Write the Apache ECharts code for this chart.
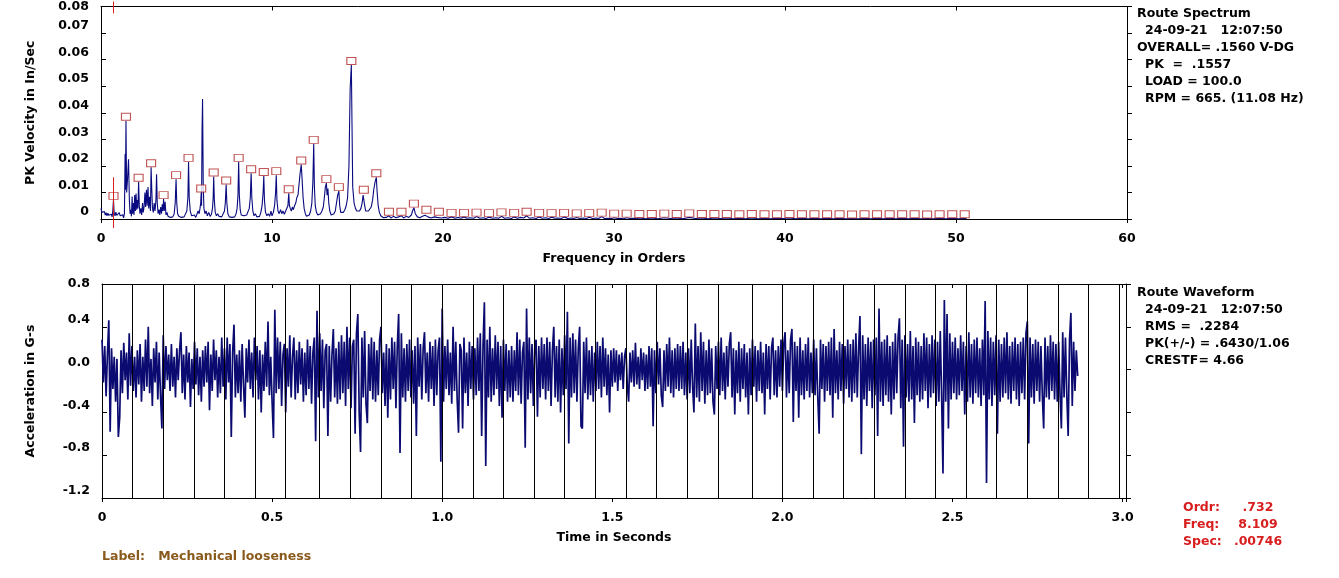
<!DOCTYPE html>
<html>
<head>
<meta charset="utf-8">
<title>Route Spectrum / Route Waveform</title>
<script src="https://cdn.jsdelivr.net/npm/echarts@6.0.0/dist/echarts.min.js"></script>
<style>
    html, body { margin: 0; padding: 0; background: #fff; }
    #main { width: 1339px; height: 578px; }
</style>
</head>
<body>
<div id="main"></div>
<script>
// ---- spectrum (orders, PK velocity in/s) ----
var spectrumPts = [
    [0.00,0.0040],[0.05,0.0025],[0.10,0.0032],[0.15,0.0018],[0.20,0.0028],[0.25,0.0015],[0.30,0.0024],[0.35,0.0012],
    [0.40,0.0022],[0.45,0.0014],[0.50,0.0020],[0.55,0.0010],[0.60,0.0018],[0.65,0.0008],[0.69,0.0030],[0.73,0.0072],
    [0.77,0.0022],[0.82,0.0012],[0.87,0.0026],[0.92,0.0014],[0.97,0.0020],[1.02,0.0010],[1.07,0.0024],[1.12,0.0012],
    [1.17,0.0018],[1.22,0.0008],[1.27,0.0016],[1.32,0.0004],[1.37,0.0020],[1.41,0.0245],[1.43,0.0110],[1.46,0.0370],
    [1.50,0.0100],[1.55,0.0150],[1.61,0.0225],[1.66,0.0070],[1.70,0.0020],[1.74,0.0035],[1.78,0.0010],[1.82,0.0085],
    [1.85,0.0020],[1.90,0.0060],[1.93,0.0015],[1.97,0.0090],[2.01,0.0030],[2.05,0.0096],[2.09,0.0035],[2.13,0.0071],
    [2.16,0.0040],[2.20,0.0140],[2.24,0.0050],[2.28,0.0020],[2.33,0.0040],[2.38,0.0015],[2.43,0.0060],[2.47,0.0025],
    [2.52,0.0046],[2.57,0.0100],[2.61,0.0045],[2.66,0.0110],[2.70,0.0050],[2.75,0.0120],[2.79,0.0040],[2.84,0.0084],
    [2.89,0.0030],[2.93,0.0195],[2.97,0.0110],[3.01,0.0040],[3.06,0.0025],[3.11,0.0060],[3.16,0.0030],[3.21,0.0070],
    [3.25,0.0168],[3.29,0.0060],[3.34,0.0020],[3.39,0.0035],[3.44,0.0015],[3.49,0.0045],[3.54,0.0020],[3.58,0.0055],
    [3.62,0.0030],[3.66,0.0075],[3.70,0.0030],[3.75,0.0065],[3.80,0.0015],[3.86,0.0025],[3.92,0.0010],[3.98,0.0015],
    [4.05,0.0006],[4.12,0.0012],[4.20,0.0008],[4.28,0.0020],[4.34,0.0060],[4.39,0.0150],[4.43,0.0060],[4.48,0.0020],
    [4.55,0.0010],[4.62,0.0015],[4.70,0.0006],[4.78,0.0012],[4.86,0.0008],[4.94,0.0015],[5.02,0.0030],[5.08,0.0080],
    [5.12,0.0215],[5.16,0.0080],[5.22,0.0030],[5.30,0.0012],[5.38,0.0008],[5.46,0.0015],[5.54,0.0006],[5.62,0.0020],
    [5.68,0.0030],[5.74,0.0020],[5.79,0.0040],[5.83,0.0060],[5.86,0.0100],[5.88,0.0050],[5.91,0.0340],[5.94,0.0452],
    [5.98,0.0120],[6.02,0.0040],[6.08,0.0020],[6.15,0.0030],[6.22,0.0012],[6.30,0.0025],[6.38,0.0010],[6.46,0.0018],
    [6.52,0.0040],[6.56,0.0080],[6.59,0.0160],[6.63,0.0070],[6.68,0.0025],[6.75,0.0012],[6.82,0.0020],[6.90,0.0010],
    [6.98,0.0015],[7.06,0.0008],[7.14,0.0015],[7.22,0.0030],[7.27,0.0060],[7.32,0.0130],[7.36,0.0060],[7.42,0.0020],
    [7.50,0.0008],[7.58,0.0012],[7.66,0.0006],[7.74,0.0012],[7.82,0.0008],[7.90,0.0020],[7.96,0.0040],[8.01,0.0090],
    [8.05,0.0215],[8.09,0.0090],[8.14,0.0035],[8.20,0.0015],[8.28,0.0008],[8.36,0.0012],[8.44,0.0006],[8.52,0.0015],
    [8.60,0.0020],[8.67,0.0040],[8.73,0.0080],[8.78,0.0172],[8.82,0.0080],[8.88,0.0030],[8.95,0.0012],[9.03,0.0020],
    [9.11,0.0008],[9.19,0.0015],[9.27,0.0010],[9.35,0.0025],[9.42,0.0050],[9.48,0.0100],[9.52,0.0162],[9.56,0.0070],
    [9.62,0.0025],[9.70,0.0012],[9.78,0.0020],[9.86,0.0010],[9.94,0.0030],[10.00,0.0012],[10.08,0.0025],[10.15,0.0050],
    [10.21,0.0100],[10.25,0.0165],[10.29,0.0070],[10.35,0.0030],[10.42,0.0020],[10.50,0.0035],[10.57,0.0020],[10.64,0.0030],
    [10.72,0.0018],[10.80,0.0030],[10.87,0.0025],[10.93,0.0050],[10.98,0.0097],[11.02,0.0050],[11.07,0.0040],[11.13,0.0030],
    [11.19,0.0045],[11.25,0.0035],[11.32,0.0050],[11.39,0.0060],[11.45,0.0080],[11.52,0.0090],[11.58,0.0130],[11.64,0.0170],
    [11.71,0.0205],[11.76,0.0150],[11.82,0.0080],[11.88,0.0040],[11.95,0.0020],[12.02,0.0010],[12.10,0.0008],[12.18,0.0015],
    [12.26,0.0030],[12.33,0.0060],[12.39,0.0140],[12.44,0.0283],[12.48,0.0120],[12.53,0.0050],[12.60,0.0025],[12.68,0.0015],
    [12.76,0.0012],[12.84,0.0020],[12.92,0.0030],[13.00,0.0045],[13.06,0.0080],[13.12,0.0120],[13.18,0.0135],[13.22,0.0090],
    [13.27,0.0115],[13.32,0.0060],[13.38,0.0030],[13.46,0.0015],[13.54,0.0012],[13.62,0.0020],[13.70,0.0030],[13.77,0.0060],
    [13.84,0.0090],[13.91,0.0105],[13.96,0.0050],[14.02,0.0025],[14.10,0.0020],[14.18,0.0025],[14.26,0.0035],[14.34,0.0050],
    [14.42,0.0080],[14.50,0.0200],[14.57,0.0490],[14.64,0.0580],[14.68,0.0350],[14.72,0.0120],[14.80,0.0060],[14.88,0.0040],
    [14.96,0.0030],[15.04,0.0025],[15.12,0.0030],[15.20,0.0040],[15.27,0.0060],[15.33,0.0090],[15.37,0.0095],[15.42,0.0050],
    [15.48,0.0030],[15.56,0.0025],[15.64,0.0030],[15.72,0.0035],[15.80,0.0045],[15.88,0.0070],[15.95,0.0110],[16.03,0.0140],
    [16.10,0.0157],[16.15,0.0100],[16.21,0.0050],[16.28,0.0025],[16.36,0.0012],[16.44,0.0008],[16.52,0.0005],[16.60,0.0008],
    [16.68,0.0006],[16.76,0.0005],[16.84,0.0012],[16.95,0.0004],[17.10,0.0010],[17.25,0.0005],[17.40,0.0008],[17.57,0.0012],
    [17.70,0.0004],[17.85,0.0010],[18.00,0.0006],[18.15,0.0015],[18.22,0.0030],[18.30,0.0043],[18.38,0.0020],[18.50,0.0008],
    [18.65,0.0005],[18.80,0.0010],[18.95,0.0014],[19.03,0.0020],[19.12,0.0008],[19.30,0.0004],[19.50,0.0008],[19.65,0.0006],
    [19.76,0.0012],[19.90,0.0004],[20.10,0.0006],[20.30,0.0003],[20.50,0.0008],[20.70,0.0003],[20.90,0.0006],[21.05,0.0003],
    [21.23,0.0008],[21.40,0.0003],[21.60,0.0005],[21.80,0.0003],[21.96,0.0009],[22.15,0.0003],[22.35,0.0005],[22.50,0.0002],
    [22.69,0.0007],[22.90,0.0003],[23.10,0.0005],[23.25,0.0003],[23.42,0.0010],[23.60,0.0003],[23.80,0.0005],[24.00,0.0002],
    [24.16,0.0008],[24.35,0.0003],[24.55,0.0006],[24.72,0.0004],[24.89,0.0012],[25.05,0.0003],[25.25,0.0005],[25.45,0.0002],
    [25.62,0.0008],[25.80,0.0003],[26.00,0.0005],[26.18,0.0002],[26.35,0.0007],[26.55,0.0003],[26.75,0.0004],[26.92,0.0002],
    [27.08,0.0008],[27.30,0.0002],[27.50,0.0004],[27.65,0.0002],[27.82,0.0006],[28.00,0.0002],[28.20,0.0004],[28.38,0.0002],
    [28.55,0.0007],[28.75,0.0002],[28.95,0.0004],[29.10,0.0002],[29.28,0.0009],[29.45,0.0002],[29.65,0.0003],[29.85,0.0002],
    [30.01,0.0005],[30.20,0.0002],[30.40,0.0003],[30.55,0.0001],[30.74,0.0005],[30.95,0.0002],[31.15,0.0003],[31.30,0.0001],
    [31.48,0.0004],[31.85,0.0001],[32.21,0.0004],[32.58,0.0001],[32.94,0.0005],[33.30,0.0002],[33.67,0.0004],[34.04,0.0001],
    [34.40,0.0006],[34.77,0.0002],[35.14,0.0004],[35.50,0.0001],[35.87,0.0004],[36.24,0.0002],[36.60,0.0004],[36.97,0.0001],
    [37.33,0.0003],[37.70,0.0001],[38.06,0.0004],[38.43,0.0001],[38.80,0.0003],[39.16,0.0001],[39.53,0.0003],[39.90,0.0002],
    [40.26,0.0004],[40.62,0.0001],[40.99,0.0003],[41.36,0.0001],[41.72,0.0003],[42.09,0.0001],[42.46,0.0003],[42.82,0.0001],
    [43.19,0.0003],[43.56,0.0001],[43.92,0.0002],[44.29,0.0001],[44.65,0.0003],[45.02,0.0001],[45.38,0.0003],[45.75,0.0001],
    [46.12,0.0003],[46.48,0.0001],[46.85,0.0003],[47.22,0.0001],[47.58,0.0003],[47.95,0.0001],[48.31,0.0002],[48.68,0.0001],
    [49.04,0.0003],[49.41,0.0001],[49.78,0.0003],[50.14,0.0001],[50.51,0.0003],[50.62,0.0001]
];

// marked harmonic peaks (orders) and their amplitudes
var harmOrders = [
    0.73, 1.46, 2.20, 2.93, 3.66, 4.39, 5.12, 5.86, 6.59, 7.32,
    8.05, 8.78, 9.52, 10.25, 10.98, 11.71, 12.44, 13.18, 13.91, 14.64,
    15.37, 16.10, 16.84, 17.57, 18.30, 19.03, 19.76, 20.50, 21.23, 21.96,
    22.69, 23.42, 24.16, 24.89, 25.62, 26.35, 27.08, 27.82, 28.55, 29.28,
    30.01, 30.74, 31.48, 32.21, 32.94, 33.67, 34.40, 35.14, 35.87, 36.60,
    37.33, 38.06, 38.80, 39.53, 40.26, 40.99, 41.72, 42.46, 43.19, 43.92,
    44.65, 45.38, 46.12, 46.85, 47.58, 48.31, 49.04, 49.78, 50.51
];
var harmAmps = [
    0.0072, 0.0370, 0.0140, 0.0195, 0.0075, 0.0150, 0.0215, 0.0100, 0.0160, 0.0130,
    0.0215, 0.0172, 0.0162, 0.0165, 0.0097, 0.0205, 0.0283, 0.0135, 0.0105, 0.0580,
    0.0095, 0.0157, 0.0012, 0.0012, 0.0043, 0.0020, 0.0012, 0.0008, 0.0008, 0.0009,
    0.0007, 0.0010, 0.0008, 0.0012, 0.0008, 0.0007, 0.0008, 0.0006, 0.0007, 0.0009,
    0.0005, 0.0005, 0.0004, 0.0004, 0.0005, 0.0004, 0.0006, 0.0004, 0.0004, 0.0004,
    0.0003, 0.0004, 0.0003, 0.0003, 0.0004, 0.0003, 0.0003, 0.0003, 0.0003, 0.0002,
    0.0003, 0.0003, 0.0003, 0.0003, 0.0003, 0.0002, 0.0003, 0.0003, 0.0003
];

// cursor at the first marked peak, and the two red strokes it draws
var cursorOrder = 0.732;
var cursorSpans = [[-0.0034, 0.0157], [0.0774, 0.0819]];

// ---- waveform (G-s), one value every waveDt seconds, rows of 0.1 s ----
var waveDt = 0.004;
var waveG = [
    0.28,-0.12,0.22,-0.25,0.15,0.46,-0.58,0.20,-0.18,0.12,-0.30,0.10,-0.63,-0.45,0.18,-0.22,0.25,-0.10,0.16,-0.28,0.34,-0.15,0.22,-0.20,0.12,
    -0.26,0.18,-0.14,0.24,-0.30,0.12,-0.20,0.28,-0.16,0.40,-0.22,0.10,-0.34,0.20,-0.12,0.26,-0.28,0.16,-0.24,-0.55,0.32,-0.18,0.22,-0.10,0.14,
    -0.20,0.24,-0.16,0.12,-0.26,0.20,-0.10,0.18,0.35,-0.22,0.14,-0.28,0.22,-0.12,0.16,-0.35,0.10,-0.18,0.26,-0.14,0.20,-0.24,0.12,-0.30,0.18,
    -0.16,0.22,-0.12,0.26,-0.38,0.14,-0.20,0.28,-0.10,0.18,-0.26,0.12,-0.22,0.30,-0.16,0.20,-0.28,0.30,-0.12,0.24,-0.63,0.16,0.42,-0.26,0.14,
    -0.22,0.18,-0.30,0.24,-0.14,-0.45,0.20,-0.12,0.28,-0.18,0.16,-0.26,0.30,-0.10,0.22,-0.28,0.18,-0.40,0.14,-0.20,0.26,-0.16,0.45,-0.24,0.12,
    -0.30,-0.64,0.56,-0.22,0.30,-0.18,0.26,-0.34,0.14,0.24,-0.40,0.20,-0.16,0.32,-0.26,0.12,0.30,-0.28,0.18,-0.22,0.26,-0.14,0.20,-0.30,0.16,
    -0.24,0.28,-0.18,0.22,-0.32,0.16,0.30,-0.67,0.55,-0.26,0.34,-0.20,0.28,-0.36,0.18,0.24,-0.62,0.22,-0.30,0.14,0.38,-0.26,0.20,-0.32,0.26,
    -0.28,0.32,-0.22,0.26,-0.34,0.40,-0.18,0.30,-0.36,0.22,0.28,-0.60,0.34,0.52,-0.40,-0.77,0.30,-0.26,0.36,-0.32,-0.50,0.24,-0.20,0.30,-0.28,
    0.26,-0.30,0.18,-0.24,0.28,0.40,-0.22,0.16,-0.34,0.24,-0.45,0.20,-0.28,0.30,-0.18,0.26,-0.36,0.22,0.52,-0.78,0.34,-0.26,0.20,-0.30,0.24,
    -0.20,0.28,-0.26,0.18,-0.32,0.22,-0.62,0.30,-0.16,0.24,-0.28,0.20,0.35,-0.22,0.16,-0.30,0.26,-0.18,0.22,-0.34,0.28,-0.24,0.18,0.30,-0.86,
    0.57,-0.30,0.22,-0.18,0.28,-0.24,0.16,-0.32,0.40,-0.20,0.26,-0.28,-0.59,0.24,0.18,-0.55,0.30,-0.22,0.16,-0.34,0.26,-0.18,0.22,-0.28,0.20,
    -0.24,0.30,-0.20,0.34,-0.62,0.22,0.63,-0.90,0.28,-0.26,0.40,-0.30,0.20,-0.24,0.32,-0.18,0.26,-0.34,0.22,-0.45,0.28,-0.20,0.24,-0.30,0.18,
    -0.26,0.22,-0.30,0.18,-0.20,0.35,-0.24,0.28,-0.32,0.16,0.26,-0.73,0.57,-0.28,0.30,-0.22,0.24,-0.34,0.20,0.28,-0.44,0.22,-0.26,0.30,-0.18,
    0.24,-0.28,0.30,-0.20,0.26,-0.34,0.18,0.40,-0.26,0.22,-0.30,0.28,-0.40,0.20,-0.24,0.32,-0.18,0.54,-0.69,0.30,-0.26,0.34,-0.22,0.28,-0.30,
    0.20,0.40,-0.53,-0.55,0.26,-0.22,0.30,-0.28,0.18,-0.24,0.22,-0.30,0.16,-0.20,0.26,-0.18,0.22,-0.26,0.30,-0.16,0.20,-0.24,0.14,-0.40,0.18,
    -0.16,0.20,-0.12,0.18,-0.20,0.14,-0.10,0.16,-0.18,0.12,0.20,-0.14,-0.30,0.16,-0.12,0.18,-0.16,0.25,-0.14,0.12,-0.18,0.20,-0.10,0.16,-0.20,
    0.14,-0.18,0.22,-0.16,0.20,-0.53,0.18,-0.22,0.26,-0.14,0.20,-0.24,-0.35,0.18,-0.20,0.24,-0.16,0.30,-0.22,0.18,-0.26,0.20,-0.18,0.24,-0.20,
    0.22,-0.18,0.26,-0.24,0.16,-0.28,0.20,-0.22,0.28,-0.16,-0.40,0.43,-0.26,0.22,-0.30,0.35,-0.20,0.26,-0.32,0.18,-0.24,0.28,-0.22,0.20,-0.30,
    -0.42,0.22,-0.18,0.26,-0.24,0.30,-0.20,0.16,-0.28,0.22,-0.16,0.24,0.35,-0.26,0.20,-0.42,0.18,-0.22,0.26,-0.30,0.20,-0.18,0.24,-0.26,0.16,
    -0.42,0.20,-0.24,0.28,-0.16,0.22,-0.30,0.18,-0.20,0.26,-0.22,0.16,-0.42,0.24,-0.18,0.22,-0.28,0.20,0.30,-0.24,0.18,-0.26,0.22,-0.16,0.28,
    -0.20,0.24,0.35,-0.26,0.18,-0.22,0.28,0.38,-0.49,0.26,-0.20,0.22,-0.45,0.30,-0.24,0.18,-0.28,0.24,-0.20,0.30,-0.26,0.16,-0.22,0.28,-0.24,
    0.20,-0.26,-0.60,0.28,-0.18,0.24,-0.30,0.22,-0.20,0.26,-0.24,0.30,-0.45,0.38,-0.22,0.18,-0.28,0.26,-0.20,0.24,-0.32,0.22,-0.18,0.28,-0.26,
    0.24,-0.30,0.28,-0.22,0.34,-0.26,0.20,0.50,-0.79,0.32,-0.28,0.24,-0.34,0.30,-0.20,0.26,-0.36,0.28,-0.24,0.30,-0.62,0.57,-0.30,0.26,-0.34,
    0.28,-0.24,0.32,-0.30,0.22,-0.42,0.26,-0.28,0.34,-0.22,0.30,0.48,-0.36,0.28,-0.72,0.32,-0.26,0.24,-0.30,0.36,-0.28,0.22,-0.50,0.30,-0.24,
    0.26,-0.30,0.22,-0.28,0.34,-0.20,0.30,-0.36,0.24,-0.26,0.32,-0.22,0.28,-0.34,0.26,-0.30,0.36,-0.24,-0.97,0.65,-0.30,0.52,-0.55,0.34,-0.28,
    0.26,-0.22,0.30,-0.28,0.20,-0.24,0.32,-0.20,0.26,-0.42,0.22,-0.30,0.35,-0.26,0.24,-0.32,0.28,-0.22,0.30,-0.26,0.20,-0.34,0.28,-0.24,0.64,
    -1.06,0.36,-0.28,0.30,-0.34,0.26,-0.24,0.32,-0.60,0.28,-0.30,0.24,-0.26,0.30,-0.22,0.35,-0.28,0.22,-0.32,0.26,-0.20,0.30,-0.28,0.24,-0.34,
    0.26,-0.22,0.30,-0.28,0.34,0.45,-0.69,0.30,-0.26,0.24,-0.32,0.28,-0.20,0.26,-0.30,0.22,-0.24,-0.55,0.30,-0.26,0.22,-0.28,0.32,-0.20,0.26,
    -0.28,0.24,-0.30,0.26,-0.22,-0.55,0.35,-0.26,0.30,-0.24,-0.62,0.28,0.53,-0.34,0.26,-0.20,0.18,-0.06
];

// once-per-revolution marker lines on the waveform (seconds)
var revTimes = [
    0.091, 0.181, 0.272, 0.363, 0.454, 0.544, 0.635, 0.726, 0.816, 0.907, 0.998,
    1.088, 1.179, 1.270, 1.361, 1.451, 1.542, 1.633, 1.723, 1.814, 1.905, 1.995,
    2.086, 2.177, 2.268, 2.358, 2.449, 2.540, 2.630, 2.721, 2.812, 2.902, 2.993
];

// ---- texts ----
var specInfo = ['Route Spectrum', '24-09-21   12:07:50', 'OVERALL= .1560 V-DG', 'PK  =  .1557', 'LOAD = 100.0', 'RPM = 665. (11.08 Hz)'];
var waveInfo = ['Route Waveform', '24-09-21   12:07:50', 'RMS =  .2284', 'PK(+/-) = .6430/1.06', 'CRESTF= 4.66'];
var cursorNames = ['Ordr:', 'Freq:', 'Spec:'];
var cursorValues = ['.732', '8.109', '.00746'];
var pointLabel = 'Label:   Mechanical looseness';

(function () {
    var FONT = '"DejaVu Sans", sans-serif';
    var FS = 12.5;
    var txt = { color: '#000', fontSize: FS, fontWeight: 'bold', fontFamily: FONT };

    // y labels sit a little above their ticks, except the top one
    function yLabels(max, digits) {
        return {
            margin: 12,
            formatter: function (v) {
                var s = (v === 0 && digits === 2) ? '0' : v.toFixed(digits);
                return Math.abs(v - max) < 1e-9 ? '{t|' + s + '}' : '{s|' + s + '}';
            },
            rich: {
                s: Object.assign({ padding: [0, 0, 14, 0] }, txt),
                t: Object.assign({}, txt)
            }
        };
    }

    // axis lines never jump to zero: they frame the plots
    var line = { onZero: false, lineStyle: { color: '#000', width: 1 } };
    var hideLabel = { show: false };

    var waveData = waveG.map(function (g, i) { return [i * waveDt, g]; });
    var markers = harmOrders.map(function (o, i) { return [o, harmAmps[i]]; });

    var myChart = echarts.init(document.getElementById('main'), null, { renderer: 'canvas' });

    var elements = [];
    function addText(str, x, y, extra) {
        elements.push({
            type: 'text', silent: true,
            style: Object.assign({
                text: str, x: x, y: y,
                font: 'bold ' + FS + 'px ' + FONT,
                fill: '#000',
                textAlign: 'left', textVerticalAlign: 'middle',
                align: 'left', verticalAlign: 'middle'
            }, extra || {})
        });
    }
    specInfo.forEach(function (s, i) { addText(s, (i === 0 || i === 2) ? 1137 : 1145, 14 + i * 17); });
    waveInfo.forEach(function (s, i) { addText(s, i === 0 ? 1137 : 1145, 293 + i * 17); });
    cursorNames.forEach(function (s, i) {
        addText(s, 1183, 508 + i * 17, { fill: '#d81e1e' });
        addText(cursorValues[i], 1258, 508 + i * 17, { fill: '#d81e1e', textAlign: 'center', align: 'center' });
    });
    addText(pointLabel, 102, 557, { fill: '#8a5a1c' });

    var option = {
        animation: false,
        backgroundColor: '#fff',
        grid: [
            { left: 101, top: 5, width: 1026, height: 214 },
            { left: 102, top: 284, width: 1024, height: 214 }
        ],
        xAxis: [
            {
                gridIndex: 0, type: 'value', min: 0, max: 60, interval: 10,
                name: 'Frequency in Orders', nameLocation: 'middle', nameGap: 33, nameTextStyle: txt,
                axisLine: line, axisTick: { inside: false, length: 4, lineStyle: { color: '#000' } },
                axisLabel: Object.assign({ margin: 13 }, txt), splitLine: { show: false }
            },
            {
                gridIndex: 1, type: 'value', min: 0, max: 3.01, interval: 0.5,
                name: 'Time in Seconds', nameLocation: 'middle', nameGap: 33, nameTextStyle: txt,
                axisLine: line, axisTick: { inside: false, length: 4, lineStyle: { color: '#000' } },
                axisLabel: Object.assign({
                    margin: 13,
                    formatter: function (v) {
                        if (Math.abs(v * 2 - Math.round(v * 2)) > 1e-6) return '';
                        return v === 0 ? '0' : v.toFixed(1);
                    }
                }, txt),
                splitLine: { show: false }
            },
            {
                gridIndex: 0, type: 'value', position: 'top', min: 0, max: 60, interval: 10,
                axisLine: line, axisTick: { inside: true, length: 4, lineStyle: { color: '#000' } },
                axisLabel: hideLabel, splitLine: { show: false }
            },
            {
                gridIndex: 1, type: 'value', position: 'top', min: 0, max: 3.01, interval: 0.5,
                axisLine: line, axisTick: { inside: true, length: 4, lineStyle: { color: '#000' } },
                axisLabel: hideLabel, splitLine: { show: false }
            }
        ],
        yAxis: [
            {
                gridIndex: 0, type: 'value', min: 0, max: 0.08, interval: 0.01,
                name: 'PK Velocity in In/Sec', nameLocation: 'middle', nameGap: 64, nameTextStyle: txt,
                axisLine: line, axisTick: { inside: true, length: 5, lineStyle: { color: '#000' } },
                axisLabel: yLabels(0.08, 2), splitLine: { show: false }
            },
            {
                gridIndex: 1, type: 'value', min: -1.2, max: 0.8, interval: 0.4,
                name: 'Acceleration in G-s', nameLocation: 'middle', nameGap: 65, nameTextStyle: txt,
                axisLine: line, axisTick: { inside: true, length: 5, lineStyle: { color: '#000' } },
                axisLabel: yLabels(0.8, 1), splitLine: { show: false }
            },
            {
                gridIndex: 0, type: 'value', position: 'right', min: 0, max: 0.08, interval: 0.01,
                axisLine: line, axisTick: { inside: false, length: 5, lineStyle: { color: '#000' } },
                axisLabel: hideLabel, splitLine: { show: false }
            },
            {
                gridIndex: 1, type: 'value', position: 'right', min: -1.2, max: 0.8, interval: 0.4,
                axisLine: line, axisTick: { inside: false, length: 5, lineStyle: { color: '#000' } },
                axisLabel: hideLabel, splitLine: { show: false }
            }
        ],
        series: [
            {
                name: 'Spectrum', type: 'line', xAxisIndex: 0, yAxisIndex: 0,
                data: spectrumPts, showSymbol: false, silent: true,
                lineStyle: { color: '#0a0a80', width: 1.1 }, z: 2
            },
            {
                name: 'Peaks', type: 'scatter', xAxisIndex: 0, yAxisIndex: 0,
                data: markers, symbol: 'rect', symbolSize: [9, 7], symbolOffset: [0, -4], silent: true,
                itemStyle: { color: '#fff', borderColor: '#b02828', borderWidth: 1 }, z: 4
            },
            {
                name: 'Cursor low', type: 'line', xAxisIndex: 0, yAxisIndex: 0, clip: false,
                data: [[cursorOrder, cursorSpans[0][0]], [cursorOrder, cursorSpans[0][1]]],
                showSymbol: false, silent: true, lineStyle: { color: '#d81e1e', width: 1 }, z: 5
            },
            {
                name: 'Cursor top', type: 'line', xAxisIndex: 0, yAxisIndex: 0, clip: false,
                data: [[cursorOrder, cursorSpans[1][0]], [cursorOrder, cursorSpans[1][1]]],
                showSymbol: false, silent: true, lineStyle: { color: '#d81e1e', width: 1 }, z: 5
            },
            {
                name: 'Waveform', type: 'line', xAxisIndex: 1, yAxisIndex: 1,
                data: waveData, showSymbol: false, silent: true, sampling: null,
                lineStyle: { color: '#0a0a70', width: 1.7 }, z: 2,
                markLine: {
                    silent: true, symbol: ['none', 'none'], label: { show: false },
                    lineStyle: { color: '#000', width: 1, type: 'solid' },
                    emphasis: { disabled: true },
                    data: revTimes.map(function (t) { return { xAxis: t }; })
                }
            }
        ],
        graphic: { elements: elements }
    };

    myChart.setOption(option);
    window.addEventListener('resize', function () {
        myChart.resize();
    });
})();
</script>
</body>
</html>
